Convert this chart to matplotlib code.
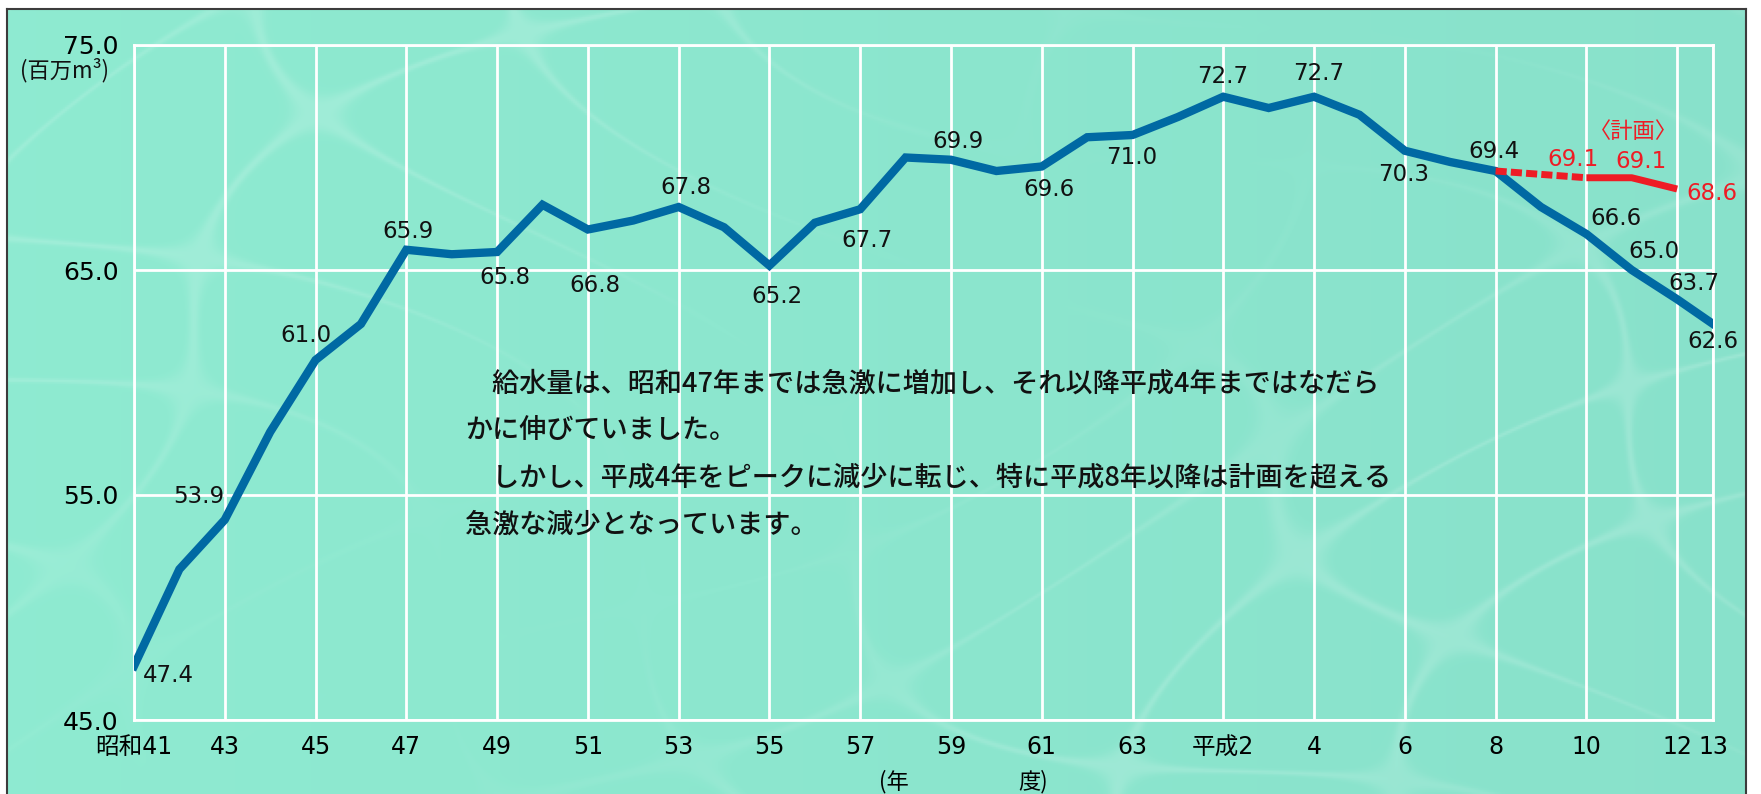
import numpy as np
import matplotlib
matplotlib.use("Agg")
import matplotlib.pyplot as plt

plt.rcParams['font.family'] = ['DejaVu Sans', 'Noto Sans CJK JP']
JP = ['Noto Sans CJK JP', 'DejaVu Sans']

# === data: yearly water supply (million m3), fiscal 昭和41 (1966) .. 平成13 (2001) ===
years = list(range(1966, 2002))
supply = [47.4, 51.7, 53.9, 57.8, 61.0, 62.6, 65.9, 65.7, 65.8, 67.9,
          66.8, 67.2, 67.8, 66.9, 65.2, 67.1, 67.7, 70.0, 69.9, 69.4,
          69.6, 70.9, 71.0, 71.8, 72.7, 72.2, 72.7, 71.9, 70.3, 69.8,
          69.4, 67.8, 66.6, 65.0, 63.7, 62.6]

# plan (計画)
plan_years = [1996, 1998, 1999, 2000]
plan = [69.4, 69.1, 69.1, 68.6]

label_years = [1966, 1968, 1970, 1972, 1974, 1976, 1978, 1980, 1982, 1984,
               1986, 1988, 1990, 1992, 1994, 1996, 1998, 1999, 2000, 2001]
plan_label_years = [1998, 1999, 2000]

tick_years = list(range(1966, 2001, 2)) + [2001]
tick_labels = ['昭和41', '43', '45', '47', '49', '51', '53', '55', '57', '59',
               '61', '63', '平成2', '4', '6', '8', '10', '12', '13']

# label offsets in pixels (dx, dy; dy positive = down)
label_offsets = [(34, 10), (-26, -23), (-10, -25), (2, -18), (8, 25), (7, 56),
                 (7, -20), (8, 31), (7, 31), (7, -18), (7, 23), (-1, 22),
                 (-1, -20), (5, -23), (-1, 24), (-2, -19), (30, -16),
                 (22, -18), (17, -16), (0, 17)]
plan_offsets = [(-13, -18), (9, -16), (35, 4)]

W, H = 1761, 794
BLUE = '#0069a3'
RED = '#ee1c25'

fig = plt.figure(figsize=(W / 100, H / 100), dpi=100)
fig.patch.set_facecolor('white')

# background "water" panel with border
bg = fig.add_axes([7 / W, 0, (1746 - 7) / W, (H - 9) / H], zorder=0)
gy, gx = np.mgrid[0:1:400j, 0:1:900j]
f = np.sin(gx * 29 + 2.7 * np.sin(gy * 7 + gx * 3)) + np.sin(gy * 19 + 2.2 * np.sin(gx * 9))
light = np.exp(-(f / 0.1) ** 2) * (0.5 + 0.5 * np.sin(gx * 6 + gy * 4))
base = np.array([0.56, 0.92, 0.82])
dark = np.array([0.52, 0.86, 0.78])
mix = (gx * 0.6)[..., None]
col = base * (1 - mix) + dark * mix
col = col * (1 - 0.16 * light[..., None]) + 0.16 * light[..., None]
bg.imshow(col, aspect='auto', extent=(0, 1, 0, 1))
bg.set_xticks([])
bg.set_yticks([])
for side in ['left', 'top', 'right']:
    bg.spines[side].set_color('#3c3c3c')
    bg.spines[side].set_linewidth(1.5)
bg.spines['bottom'].set_visible(False)

ax = fig.add_axes([134 / W, (H - 720) / H, (1713 - 134) / W, (720 - 45) / H], zorder=1)
ax.patch.set_visible(False)


def fwd(x):
    x = np.asarray(x, dtype=float)
    return np.where(x <= 2000, x, 2000 + (x - 2000) * 0.79)


def inv(x):
    x = np.asarray(x, dtype=float)
    return np.where(x <= 2000, x, 2000 + (x - 2000) / 0.79)


ax.set_xscale('function', functions=(fwd, inv))
ax.set_xlim(1966, 2001)
ax.set_ylim(45, 75)

ax.set_xticks(tick_years)
ax.set_xticklabels(tick_labels, fontsize=17)
ax.set_yticks([45, 55, 65, 75])
ax.set_yticklabels(['45.0', '55.0', '65.0', '75.0'], fontsize=18)
ax.tick_params(axis='y', length=0, pad=11)
ax.tick_params(axis='x', length=0, pad=11)
ax.grid(True, color='white', lw=2)
ax.set_axisbelow(True)
for s in ax.spines.values():
    s.set_color('white')
    s.set_linewidth(2)

ax.plot(years, supply, color=BLUE, lw=6, solid_joinstyle='miter', zorder=3)
ax.plot(plan_years[:2], plan[:2], color=RED, lw=5, dashes=(1.6, 0.6), zorder=4)
ax.plot(plan_years[1:], plan[1:], color=RED, lw=5, solid_capstyle='butt', zorder=4)

for yr, (dx, dy) in zip(label_years, label_offsets):
    v = supply[years.index(yr)]
    ax.annotate(f'{v:.1f}', (yr, v), xytext=(dx, -dy), textcoords='offset pixels',
                ha='center', va='center', fontsize=16.5, color='#111111', zorder=5)

for yr, (dx, dy) in zip(plan_label_years, plan_offsets):
    v = plan[plan_years.index(yr)]
    ax.annotate(f'{v:.1f}', (yr, v), xytext=(dx, -dy), textcoords='offset pixels',
                ha='center', va='center', fontsize=16.5, color=RED, zorder=5)

fig.text(1633 / W, 1 - 131 / H, '〈計画〉', family=JP, fontsize=16, color=RED,
         ha='center', va='center')

fig.text(65 / W, 1 - 70 / H, '(百万m³)', family=JP, fontsize=16, color='#111111',
         ha='center', va='center')

para = ['　給水量は、昭和47年までは急激に増加し、それ以降平成4年まではなだら',
        'かに伸びていました。',
        '　しかし、平成4年をピークに減少に転じ、特に平成8年以降は計画を超える',
        '急激な減少となっています。']
for i, line in enumerate(para):
    fig.text(465 / W, 1 - (384 + 47 * i) / H, line, family=JP, fontsize=19.5,
             fontweight='medium', color='#111111', ha='left', va='center')

fig.text(894 / W, 1 - 782 / H, '(年', family=JP, fontsize=16, ha='center', va='center')
fig.text(1033 / W, 1 - 782 / H, '度)', family=JP, fontsize=16, ha='center', va='center')

fig.savefig('out.png', dpi=100)
